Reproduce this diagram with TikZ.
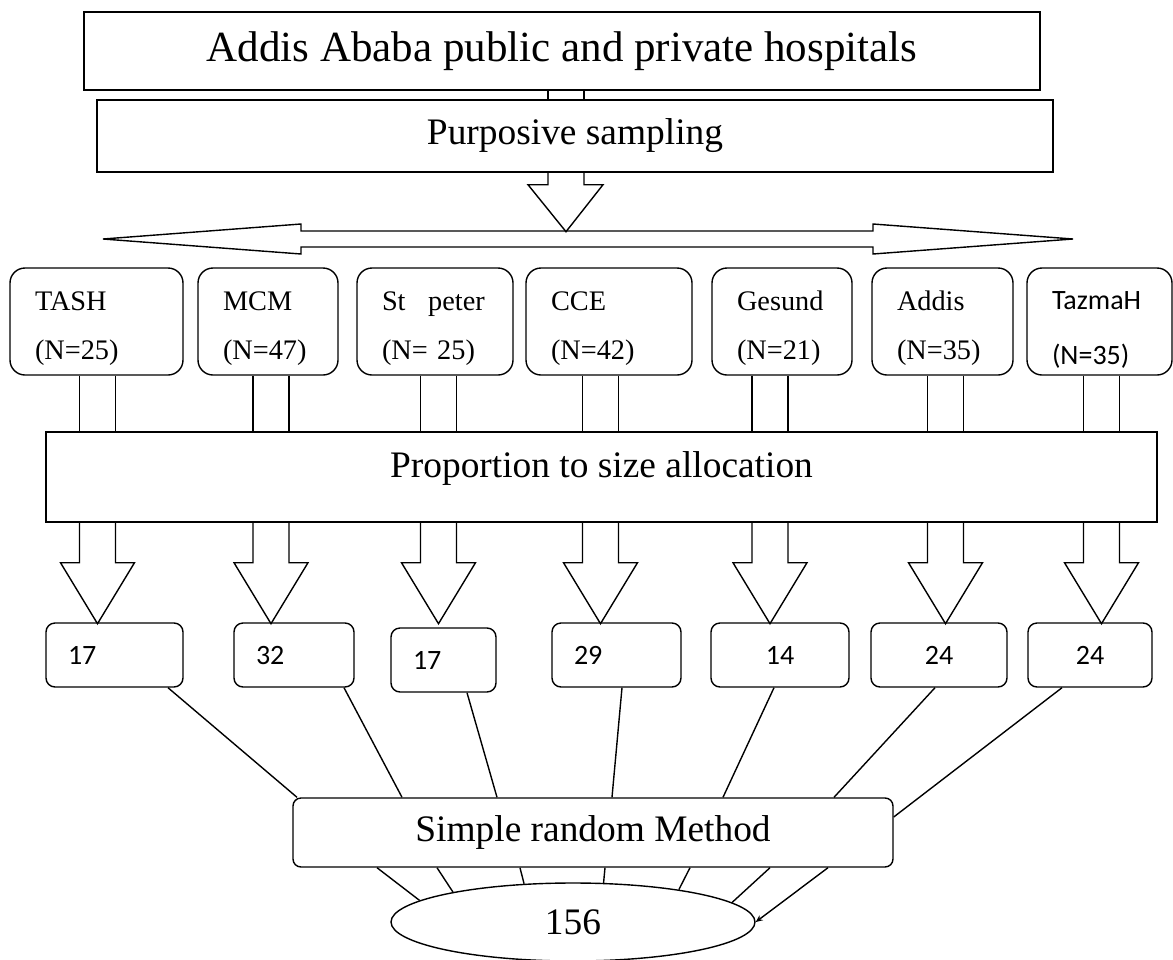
\documentclass[tikz,border=0pt]{standalone}
\usepackage{fontspec}
\setmainfont{Liberation Serif}
\newfontfamily\calibri{Carlito}
\usetikzlibrary{arrows.meta, shapes.geometric, calc}

\begin{document}
\begin{tikzpicture}[
    x=1pt, y=-1pt, line width=1.4pt,
    title/.style={
        rectangle, draw, minimum width=956pt, minimum height=78pt,
        inner sep=0pt, font=\fontsize{43}{48}\selectfont
    },
    stage/.style={
        rectangle, draw, minimum height=72pt,
        inner sep=0pt, font=\fontsize{37.4}{42}\selectfont
    },
    hosp/.style={
        rectangle, rounded corners=15pt, draw, text width=#1,
        inner xsep=25pt, inner ysep=0pt, minimum height=107pt, align=left,
        font=\fontsize{28.3}{49}\selectfont,
        execute at begin node=\rule{0pt}{34pt}
    },
    numbox/.style={
        rectangle, rounded corners=9pt, draw, text width=#1,
        inner xsep=22pt, inner ysep=0pt, minimum height=64pt, align=left,
        text height=18pt, text depth=0pt,
        font=\calibri\fontsize{28}{32}\selectfont
    },
    method/.style={
        rectangle, rounded corners=8pt, draw, minimum width=600pt,
        minimum height=69pt, inner sep=0pt, font=\fontsize{37.4}{42}\selectfont
    },
    result/.style={
        ellipse, draw, minimum width=364pt, minimum height=78pt,
        inner sep=0pt, font=\fontsize{37.4}{42}\selectfont
    }
]
\useasboundingbox (0,0) rectangle (1173,959);

\node[title] (top)  at (562, 51)  {Addis Ababa public and private hospitals};
\node[stage, minimum width=956pt] (purp) at (575, 136) {Purposive sampling};

\draw (548,0 |- top.south) -- (548,0 |- purp.north)
      (584,0 |- top.south) -- (584,0 |- purp.north);
\draw (548,0 |- purp.south) -- ++(0,12) -- ++(-20,0) -- ++(38,47)
      -- ++(37,-47) -- ++(-19,0) -- (584,0 |- purp.south);

\draw (103,239) -- (301,224) -- (301,231) -- (873,231) -- (873,224) -- (1073,239)
      -- (873,254) -- (873,247) -- (301,247) -- (301,254) -- cycle;

\node[hosp=123pt] (tash) at (96.5,  321.5) {TASH\\(N=25)};
\node[hosp=90pt]  (mcm)  at (268,   321.5) {MCM\\(N=47)};
\node[hosp=106pt] (stp)  at (435,   321.5) {\mbox{St\hspace{0.8em}peter}\\(N= 25)};
\node[hosp=116pt] (cce)  at (609,   321.5) {CCE\\(N=42)};
\node[hosp=90pt]  (ges)  at (782,   321.5) {Gesund\\(N=21)};
\node[hosp=91pt]  (adx)  at (942.5, 321.5) {Addis\\(N=35)};
\node[hosp=95pt, font=\calibri\fontsize{28}{55}\selectfont] (taz) at (1099.5, 321.5) {TazmaH\\(N=35)};

\node[stage, minimum width=1111pt, minimum height=90pt, text height=25pt, text depth=25pt]
    (prop) at (601.5, 477) {Proportion to size allocation};

\foreach \h/\x in {tash/97.5, mcm/271, stp/438.5, cce/600.5, ges/770, adx/945.5, taz/1101.5}
    \draw (\x-18,0 |- \h.south) -- (\x-18,0 |- prop.north)
          (\x+18,0 |- \h.south) -- (\x+18,0 |- prop.north);

\foreach \x in {97.5, 271, 438.5, 600.5, 770, 945.5, 1101.5}
    \draw (\x-18,0 |- prop.south) -- ++(0,40) -- ++(-19,0) -- ++(37,61)
          -- ++(37,-61) -- ++(-19,0) -- (\x+18,0 |- prop.south);

\node[numbox=93pt] (n1) at (114.5, 655) {17};
\node[numbox=76pt] (n2) at (294,   655) {32};
\node[numbox=61pt] (n3) at (443.5, 660) {17};
\node[numbox=85pt] (n4) at (616.5, 655) {29};
\node[numbox=94pt, align=center] (n5) at (780,  655) {14};
\node[numbox=92pt, align=center] (n6) at (939,  655) {24};
\node[numbox=80pt, align=center] (n7) at (1090, 655) {24};

\node[method] (srm)   at (593, 832.5) {Simple random Method};
\node[result] (total) at (573, 922)   {156};

\foreach \n/\a/\b in {n1/168/297, n2/344/402, n3/467/497, n4/622/612, n5/774/723, n6/935/834}
    \draw (\a,0 |- \n.south) -- (\b,0 |- srm.north);
\draw (1062,0 |- n7.south) -- (srm.east |- 0,817);

\foreach \a/\ang in {377/172, 437/166, 520/142, 605/52, 690/17, 770/7}
    \draw (\a,0 |- srm.south) -- (total.\ang);
\draw[-{Stealth[length=7pt, width=6pt]}] (828,0 |- srm.south) -- (total.east);

\end{tikzpicture}
\end{document}
